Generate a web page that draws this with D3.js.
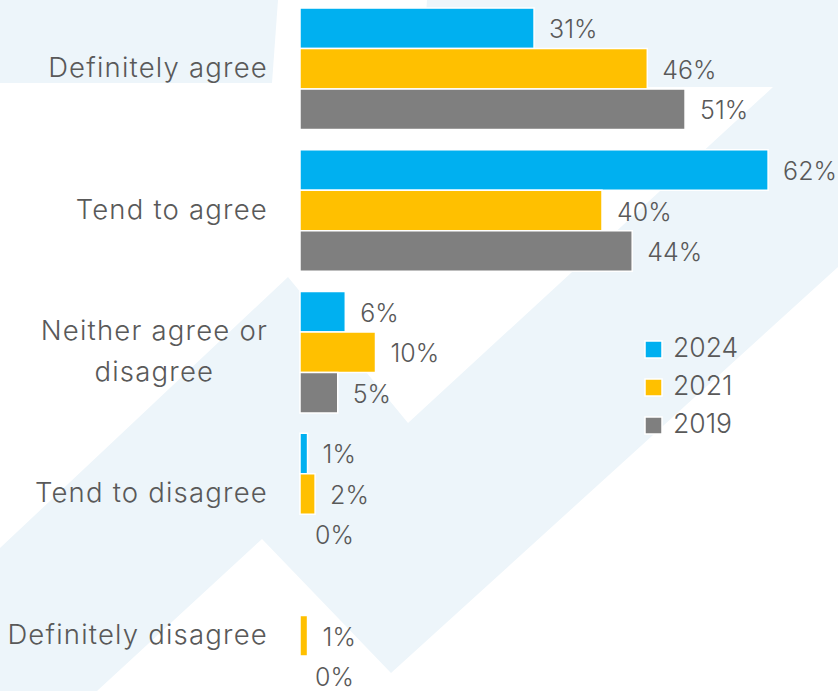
<!DOCTYPE html>
<html>
<head>
<meta charset="utf-8">
<script src="https://cdn.jsdelivr.net/npm/d3@7"></script>
<style>
  html, body { margin: 0; padding: 0; background: #fff; }
  svg { display: block; }
  text { font-family: Inter, "Noto Sans", sans-serif; font-weight: 300; fill: #595959; }
</style>
</head>
<body>
<svg id="chart" width="838" height="691"></svg>
<script>
// Survey responses by year (percent)
const categories = ["Definitely agree", "Tend to agree", "Neither agree or\ndisagree", "Tend to disagree", "Definitely disagree"];
const years = ["2024", "2021", "2019"];
const values2024 = [31, 62, 6, 1, null];
const values2021 = [46, 40, 10, 2, 1];
const values2019 = [51, 44, 5, 0, 0];
const colors = ["#00B0F0", "#FFC000", "#7F7F7F"];

const seriesValues = [values2024, values2021, values2019];
const rows = [];
categories.forEach((c, i) => {
  years.forEach((y, j) => rows.push({ cat: c, year: y, value: seriesValues[j][i], color: colors[j] }));
});

const svg = d3.select("#chart");

// Decorative background: pale rising arrow shapes
const bg = svg.append("g");
bg.append("path")
  .attr("d", "M0,0 L278,0 L272,83 L0,83 Z")
  .attr("fill", "#edf5fa");
bg.append("path")
  .attr("d", "M0,548 L0,691 L97,691 L262,539 L391,673 L838,267 L838,0 L427,0 L421,87 L773,87 L408,423 L288,277 Z")
  .attr("fill", "#edf5fa");

// Scales
const x0 = 300;
const x = d3.scaleLinear().domain([0, 100]).range([x0, x0 + 755]);
const y = d3.scaleBand().domain(categories).range([-2.1, 706.6]).paddingInner(0.1429).paddingOuter(0.0714);
const ySub = d3.scaleBand().domain(years).range([0, y.bandwidth()]);

// Bars
svg.append("g").selectAll("rect")
  .data(rows.filter(d => d.value !== null && d.value > 0))
  .join("rect")
  .attr("x", x(0))
  .attr("y", d => y(d.cat) + ySub(d.year))
  .attr("width", d => x(d.value) - x(0))
  .attr("height", ySub.bandwidth())
  .attr("fill", d => d.color)
  .attr("stroke", "#fff")
  .attr("stroke-width", 1.5);

// Value labels
svg.append("g").selectAll("text")
  .data(rows.filter(d => d.value !== null))
  .join("text")
  .attr("x", d => x(d.value) + 15)
  .attr("y", d => y(d.cat) + ySub(d.year) + ySub.bandwidth() / 2 + 10)
  .attr("font-size", 25)
  .text(d => d.value + "%");

// Category labels
const labelX = 268;
const catLabels = svg.append("g").selectAll("text")
  .data(categories).join("text")
  .attr("font-size", 27.5)
  .attr("letter-spacing", 1.2)
  .each(function (c) {
    const lines = c.split("\n");
    const t = d3.select(this);
    const cy = y(c) + y.bandwidth() / 2 + 8;
    lines.forEach((l, k) => {
      t.append("tspan")
        .attr("x", labelX)
        .attr("y", cy + (k - (lines.length - 1) / 2) * 41)
        .attr("text-anchor", lines.length > 1 ? "middle" : "end")
        .text(l);
    });
  });
// Multi-line labels: right-align the widest line, centre the rest beneath it
catLabels.filter(c => c.includes("\n")).each(function () {
  const spans = d3.select(this).selectAll("tspan").nodes();
  const w0 = d3.max(spans, s => s.getComputedTextLength());
  const cx = labelX - w0 / 2;
  spans.forEach(s => d3.select(s).attr("x", cx));
});

// Legend
const legend = svg.append("g").attr("transform", "translate(645,341)");
const li = legend.selectAll("g").data(years).join("g")
  .attr("transform", (d, i) => `translate(0,${i * 38})`);
li.append("rect")
  .attr("width", 17).attr("height", 17)
  .attr("fill", (d, i) => colors[i])
  .attr("stroke", "#fff").attr("stroke-width", 1.5);
li.append("text")
  .attr("x", 28).attr("y", 16)
  .attr("font-size", 26.5)
  .text(d => d);
</script>
</body>
</html>
